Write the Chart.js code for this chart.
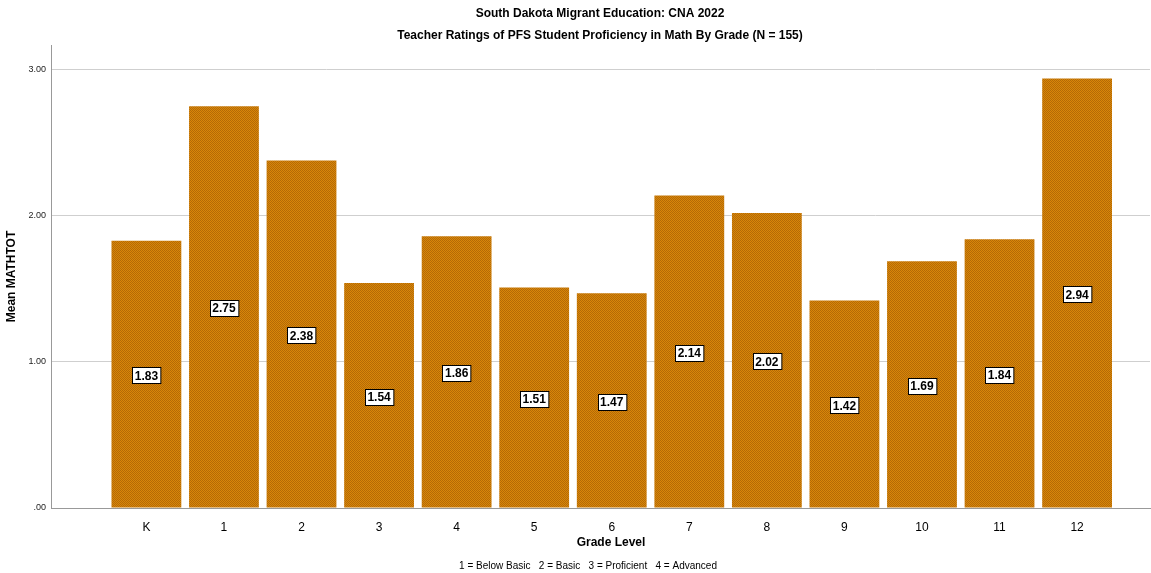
<!DOCTYPE html>
<html>
<head>
<meta charset="utf-8">
<script src="https://cdn.jsdelivr.net/npm/chart.js@4"></script>
<style>
  html, body { margin: 0; padding: 0; background: #fff; }
  #wrap { width: 1151px; height: 573px; }
</style>
</head>
<body>
<div id="wrap"><canvas id="chartContainer" width="1151" height="573"></canvas></div>
<script>
(function(){
    const grades = ['K', '1', '2', '3', '4', '5', '6', '7', '8', '9', '10', '11', '12'];
    const meanMath = [1.83, 2.75, 2.38, 1.54, 1.86, 1.51, 1.47, 2.14, 2.02, 1.42, 1.69, 1.84, 2.94];
    const yTicks = ['.00', '1.00', '2.00', '3.00'];
    const titleLines = ['South Dakota Migrant Education: CNA 2022',
                        'Teacher Ratings of PFS Student Proficiency in Math By Grade (N = 155)'];
    const xTitle = 'Grade Level';
    const footnote = '1 = Below Basic   2 = Basic   3 = Proficient   4 = Advanced';

    const FONT = '"Liberation Sans", Arial, sans-serif';

    // orange dotted fill like the SPSS bars
    function makePattern(){
        const c = document.createElement('canvas');
        c.width = 2; c.height = 2;
        const g = c.getContext('2d');
        g.fillStyle = '#d8860a';
        g.fillRect(0, 0, 2, 2);
        g.fillStyle = '#b46a05';
        g.fillRect(0, 0, 1, 1);
        g.fillRect(1, 1, 1, 1);
        return g.createPattern(c, 'repeat');
    }

    const ctx = document.getElementById('chartContainer').getContext('2d');

    const textPlugin = {
        id: 'texts',
        afterDraw(chart){
            const c = chart.ctx;
            c.save();
            c.fillStyle = '#000';
            c.textAlign = 'center';
            c.textBaseline = 'middle';
            c.font = 'bold 12px ' + FONT;
            c.fillText(titleLines[0], 600, 14);
            c.fillText(titleLines[1], 600, 36);
            c.fillText(xTitle, 611, 543);
            c.font = '10px ' + FONT;
            c.fillText(footnote, 588, 566);

            // value labels in boxes, halfway up each bar
            const meta = chart.getDatasetMeta(0);
            const ys = chart.scales.y;
            c.font = 'bold 12px ' + FONT;
            meta.data.forEach((bar, i) => {
                const v = meanMath[i];
                const txt = v.toFixed(2);
                const cy = ys.getPixelForValue(v / 2) + 1;
                const w = c.measureText(txt).width + 5;
                const h = 16;
                const x0 = Math.round(bar.x - w / 2) + 0.5;
                const y0 = Math.round(cy - h / 2) + 0.5;
                c.fillStyle = '#fff';
                c.fillRect(x0, y0, w, h);
                c.strokeStyle = '#000';
                c.lineWidth = 1;
                c.strokeRect(x0, y0, w, h);
                c.fillStyle = '#000';
                c.fillText(txt, bar.x, cy + 1);
            });
            c.restore();
        }
    };

    new Chart(ctx, {
        type: 'bar',
        data: {
            datasets: [{
                label: 'Mean MATHTOT',
                data: meanMath.map((v, i) => ({ x: i, y: v })),
                backgroundColor: makePattern(),
                borderWidth: 0,
                barPercentage: 0.9,
                categoryPercentage: 1.0
            }]
        },
        options: {
            responsive: false,
            animation: false,
            layout: { padding: { top: 45, right: 1, left: 0, bottom: 0 } },
            plugins: {
                legend: { display: false },
                tooltip: { enabled: false },
                title: { display: false }
            },
            scales: {
                x: {
                    type: 'linear',
                    offset: false,
                    min: -1.23,
                    max: 12.94,
                    afterFit(scale){ scale.height = 65; },
                    grid: { display: false, offset: false },
                    border: { display: true, color: '#999', width: 1 },
                    ticks: {
                        stepSize: 1,
                        includeBounds: false,
                        autoSkip: false,
                        maxRotation: 0,
                        color: '#000',
                        font: { size: 12, family: FONT },
                        padding: 4,
                        callback: v => (v >= 0 && v < grades.length && Number.isInteger(v)) ? grades[v] : ''
                    }
                },
                y: {
                    min: 0,
                    max: 3.17,
                    afterFit(scale){ scale.width = 51; },
                    grid: { color: '#cfcfcf', drawTicks: false },
                    border: { display: true, color: '#999', width: 1 },
                    ticks: {
                        stepSize: 1,
                        includeBounds: false,
                        color: '#222',
                        padding: 5,
                        font: { size: 9, family: FONT },
                        callback: v => yTicks[v]
                    },
                    title: {
                        display: true,
                        text: 'Mean MATHTOT',
                        color: '#000',
                        font: { size: 12, weight: 'bold', family: FONT },
                        padding: { bottom: 2 }
                    }
                }
            }
        },
        plugins: [textPlugin]
    });
})();
</script>
</body>
</html>
